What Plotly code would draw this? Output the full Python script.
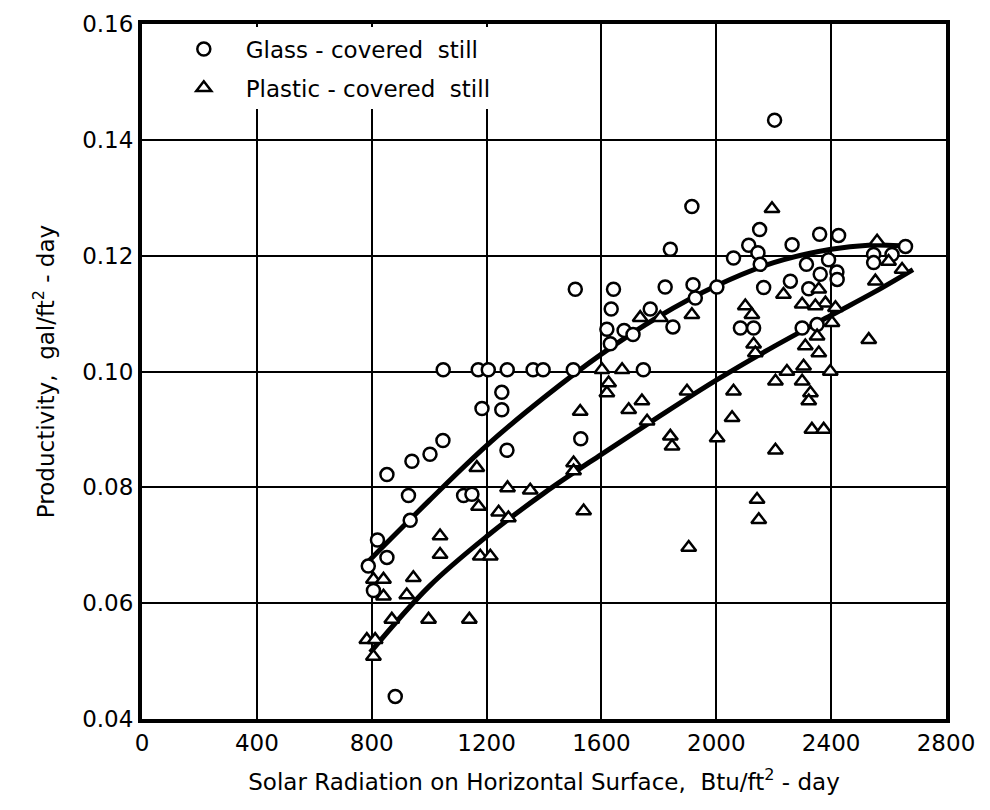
import plotly.graph_objects as go

# Glass-covered still (open circles)
glass_x = [788, 806, 820, 853, 934, 928, 853, 940, 1003, 1048, 882, 1120, 1149,
           1049, 1171, 1206, 1272, 1362, 1397, 1502, 1746,
           1253, 1253, 1184, 1271, 1528, 1509, 1642, 1634, 1619, 1631, 1679, 1710,
           1770, 1822, 1849, 1919, 1840, 2203, 1915, 2151, 2113, 2060, 2145, 2153,
           2264, 2360, 2426, 2314, 2391, 2420, 2362, 2322, 2258, 2165, 2002, 1927,
           2548, 2548, 2612, 2659, 2084, 2130, 2299, 2351, 2421]
glass_y = [0.0664, 0.0622, 0.0709, 0.0679, 0.0743, 0.0786, 0.0822, 0.0845, 0.0857, 0.0881, 0.0439, 0.0786, 0.0788,
           0.1003, 0.1003, 0.1003, 0.1003, 0.1003, 0.1003, 0.1003, 0.1003,
           0.0964, 0.0934, 0.0936, 0.0864, 0.0884, 0.1142, 0.1142, 0.1108, 0.1073, 0.1048, 0.1071, 0.1064,
           0.1108, 0.1146, 0.1077, 0.1150, 0.1211, 0.1434, 0.1285, 0.1245, 0.1218, 0.1196, 0.1205, 0.1185,
           0.1219, 0.1237, 0.1235, 0.1185, 0.1193, 0.1172, 0.1168, 0.1143, 0.1156, 0.1145, 0.1146, 0.1127,
           0.1202, 0.1188, 0.1202, 0.1216, 0.1075, 0.1075, 0.1075, 0.1081, 0.1159]

# Plastic-covered still (open triangles)
plastic_x = [1166, 1172, 1038, 1038, 1178, 1213, 945, 922, 806, 841, 841, 870, 998, 1140, 783, 812, 806,
             1242, 1276, 1273, 1352, 1526, 1503, 1503, 1538, 1602, 1672, 1625, 1619, 1695, 1741, 1759,
             1840, 1846, 1898, 1904, 1735, 1805, 1915,
             2194, 2101, 2124, 2130, 2136, 2234, 2299, 2357, 2380, 2345, 2403, 2351, 2310, 2357,
             2246, 2304, 2397, 2206, 2299, 2328, 2322, 2060, 2055, 2333, 2374, 2003,
             2531, 2142, 2148, 2206, 2560, 2600, 2647, 2554, 2415]
plastic_y = [0.0834, 0.0767, 0.0716, 0.0684, 0.0681, 0.0681, 0.0644, 0.0614, 0.0641, 0.0641, 0.0612, 0.0572, 0.0572, 0.0572, 0.0537, 0.0537, 0.0508,
             0.0757, 0.0747, 0.0799, 0.0795, 0.0931, 0.0842, 0.0828, 0.0759, 0.1003, 0.1003, 0.0980, 0.0963, 0.0934, 0.0949, 0.0914,
             0.0888, 0.0871, 0.0966, 0.0696, 0.1093, 0.1093, 0.1098,
             0.1281, 0.1113, 0.1098, 0.1047, 0.1032, 0.1133, 0.1116, 0.1142, 0.1118, 0.1113, 0.1084, 0.1061, 0.1044, 0.1032,
             0.1000, 0.1009, 0.1000, 0.0983, 0.0983, 0.0963, 0.0949, 0.0966, 0.0920, 0.0900, 0.0900, 0.0885,
             0.1055, 0.0779, 0.0744, 0.0864, 0.1225, 0.1190, 0.1176, 0.1156, 0.1110]

# Fitted curves as drawn on the original figure
glass_fit_x = [790, 1000, 1200, 1400, 1600, 1800, 2000, 2200, 2400, 2530, 2640]
glass_fit_y = [0.0673, 0.0777, 0.0872, 0.0955, 0.1030, 0.1095, 0.1148, 0.1188, 0.1211, 0.1218, 0.1217]
plastic_fit_x = [795, 1000, 1200, 1400, 1600, 1800, 2000, 2200, 2400, 2550, 2685]
plastic_fit_y = [0.0515, 0.0629, 0.0715, 0.0790, 0.0857, 0.0922, 0.0985, 0.1043, 0.1097, 0.1137, 0.1176]

x_ticks = [0, 400, 800, 1200, 1600, 2000, 2400, 2800]
y_ticks = [0.04, 0.06, 0.08, 0.10, 0.12, 0.14, 0.16]

FONT = "DejaVu Sans"

fig = go.Figure()

# fitted lines
fig.add_trace(go.Scatter(x=glass_fit_x, y=glass_fit_y, mode="lines",
                         line=dict(color="black", width=5, shape="spline"),
                         showlegend=False, hoverinfo="skip"))
fig.add_trace(go.Scatter(x=plastic_fit_x, y=plastic_fit_y, mode="lines",
                         line=dict(color="black", width=5, shape="spline"),
                         showlegend=False, hoverinfo="skip"))

# data points
fig.add_trace(go.Scatter(x=glass_x, y=glass_y, mode="markers",
                         name="   Glass - covered  still", legendgroup="g",
                         marker=dict(symbol="circle", size=13, color="white",
                                     line=dict(color="black", width=2.5))))
fig.add_trace(go.Scatter(x=plastic_x, y=plastic_y, mode="markers",
                         name="   Plastic - covered  still", legendgroup="p",
                         marker=dict(symbol="triangle-up", size=13, color="white",
                                     line=dict(color="black", width=2.5))))

axis_common = dict(showgrid=True, gridcolor="black", gridwidth=2,
                   showline=True, linecolor="black", linewidth=4, mirror=True,
                   zeroline=False, ticks="", automargin=False,
                   tickfont=dict(family=FONT, size=23, color="black"))

fig.update_xaxes(range=[0, 2800], tickvals=x_ticks, ticktext=[str(v) for v in x_ticks],
                 title=dict(text="Solar Radiation on Horizontal Surface,  Btu/ft<sup>2</sup> - day",
                            font=dict(family=FONT, size=23, color="black"), standoff=20),
                 **axis_common)
fig.update_yaxes(range=[0.04, 0.16], tickvals=y_ticks, ticktext=["%.2f" % v for v in y_ticks],
                 title=dict(text="Productivity,  gal/ft<sup>2</sup> - day",
                            font=dict(family=FONT, size=23, color="black"), standoff=22),
                 **axis_common)

# the page adds an 8px body margin, so the figure is sized and offset to compensate
fig.update_layout(
    width=982, height=802,
    margin=dict(l=134, r=44, t=16, b=91),
    plot_bgcolor="white", paper_bgcolor="white",
    legend=dict(x=0.052, y=0.995, xanchor="left", yanchor="top",
                bgcolor="white", borderwidth=0, tracegroupgap=6,
                font=dict(family=FONT, size=23, color="black")),
)

fig.write_html("out.html")
